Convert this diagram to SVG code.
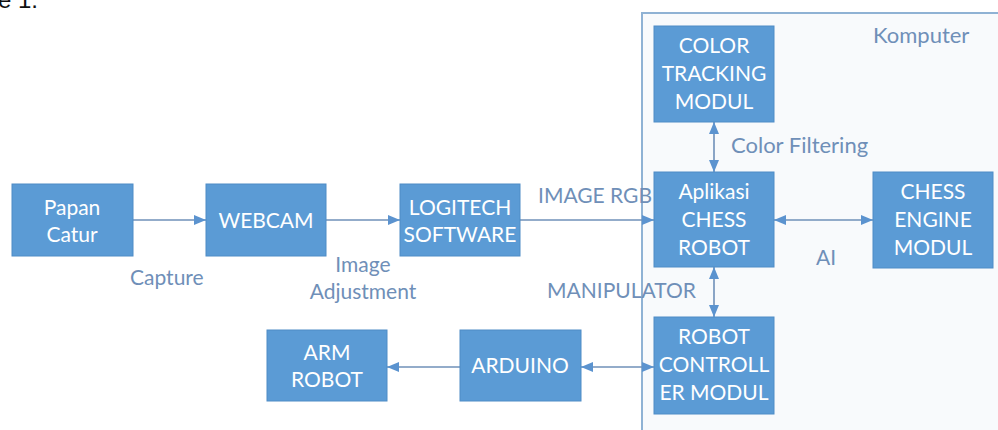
<svg xmlns="http://www.w3.org/2000/svg" width="998" height="430" viewBox="0 0 998 430">
<defs>
<marker id="ah" viewBox="0 0 12 10" refX="12" refY="5" markerWidth="12" markerHeight="10" markerUnits="userSpaceOnUse" orient="auto-start-reverse">
<path d="M0,0 L12,5 L0,10 Z" fill="#5b93cf"/>
</marker>
</defs>
<style>
.box{fill:#5b9bd5;stroke:#4f8cc6;stroke-width:1}
.bt{font-family:Lato,"Open Sans",sans-serif;font-size:21px;fill:#ffffff;text-anchor:middle}
.lb{font-family:Lato,"Open Sans",sans-serif;font-size:21px;fill:#6f8fb8}
.ln{stroke:#6f90b8;stroke-width:1.6;fill:none}
</style>
<rect width="998" height="430" fill="#ffffff"/>
<text x="-2" y="8" font-family="Liberation Sans, sans-serif" font-size="24" fill="#111">e 1.</text>
<g id="komputer">
<rect x="642" y="13" width="370" height="430" fill="#f8fafc" stroke="#8fb2d4" stroke-width="2"/>
<text class="lb" x="873" y="43" style="font-size:22px">Komputer</text>
</g>
<g id="connectors">
<line class="ln" x1="133" y1="220" x2="206" y2="220" marker-end="url(#ah)"/>
<line class="ln" x1="326" y1="220" x2="400" y2="220" marker-end="url(#ah)"/>
<line class="ln" x1="520" y1="220" x2="654" y2="220" marker-end="url(#ah)"/>
<line class="ln" x1="714" y1="122" x2="714" y2="172" marker-start="url(#ah)" marker-end="url(#ah)"/>
<line class="ln" x1="774" y1="220" x2="873" y2="220" marker-start="url(#ah)" marker-end="url(#ah)"/>
<line class="ln" x1="714" y1="267" x2="714" y2="317" marker-start="url(#ah)" marker-end="url(#ah)"/>
<line class="ln" x1="460" y1="367" x2="387" y2="367" marker-end="url(#ah)"/>
<line class="ln" x1="581" y1="367" x2="654" y2="367" marker-start="url(#ah)" marker-end="url(#ah)"/>
<text class="lb" x="130" y="285">Capture</text>
<text class="lb" x="363" y="272" text-anchor="middle">Image</text>
<text class="lb" x="363" y="299" text-anchor="middle">Adjustment</text>
<text class="lb" x="538" y="203">IMAGE RGB</text>
<text class="lb" x="731" y="153" style="font-size:22px">Color Filtering</text>
<text class="lb" x="826" y="265" text-anchor="middle">AI</text>
<text class="lb" x="547" y="298">MANIPULATOR</text>
</g>
<g id="papan">
<rect class="box" x="12" y="184" width="121" height="72"/>
<text class="bt" x="72" y="215">Papan</text>
<text class="bt" x="72" y="242">Catur</text>
</g>
<g id="webcam">
<rect class="box" x="206" y="184" width="120" height="72"/>
<text class="bt" x="266" y="228">WEBCAM</text>
</g>
<g id="logitech">
<rect class="box" x="400" y="184" width="120" height="72"/>
<text class="bt" x="460" y="215">LOGITECH</text>
<text class="bt" x="460" y="242">SOFTWARE</text>
</g>
<g id="colortracking">
<rect class="box" x="654" y="26" width="120" height="96"/>
<text class="bt" x="714" y="53">COLOR</text>
<text class="bt" x="714" y="81">TRACKING</text>
<text class="bt" x="714" y="109">MODUL</text>
</g>
<g id="aplikasi">
<rect class="box" x="654" y="172" width="120" height="95"/>
<text class="bt" x="714" y="199">Aplikasi</text>
<text class="bt" x="714" y="227">CHESS</text>
<text class="bt" x="714" y="255">ROBOT</text>
</g>
<g id="chessengine">
<rect class="box" x="873" y="172" width="120" height="96"/>
<text class="bt" x="933" y="199">CHESS</text>
<text class="bt" x="933" y="227">ENGINE</text>
<text class="bt" x="933" y="255">MODUL</text>
</g>
<g id="robotcontroller">
<rect class="box" x="654" y="317" width="120" height="97"/>
<text class="bt" x="714" y="344">ROBOT</text>
<text class="bt" x="714" y="372">CONTROLL</text>
<text class="bt" x="714" y="400">ER MODUL</text>
</g>
<g id="armrobot">
<rect class="box" x="267" y="330" width="120" height="71"/>
<text class="bt" x="327" y="360">ARM</text>
<text class="bt" x="327" y="387">ROBOT</text>
</g>
<g id="arduino">
<rect class="box" x="460" y="330" width="121" height="71"/>
<text class="bt" x="520" y="373">ARDUINO</text>
</g>
</svg>
